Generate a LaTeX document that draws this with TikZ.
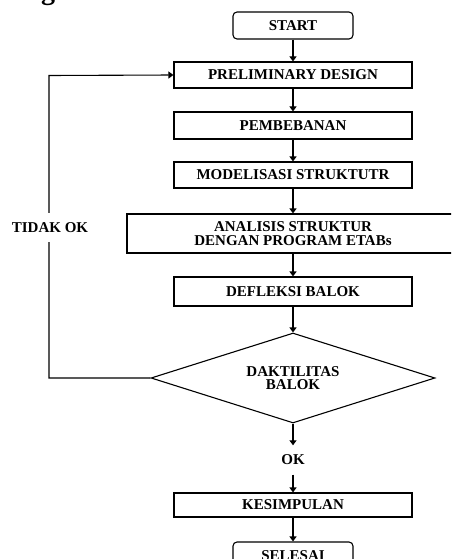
\documentclass[tikz,border=0pt]{standalone}
\usepackage{fontspec}
\setmainfont{Liberation Serif}
\usetikzlibrary{shapes.geometric,arrows.meta}
\begin{document}
\begin{tikzpicture}[x=1pt,y=-1pt,
  every node/.style={font=\fontsize{15}{13.5}\selectfont\bfseries, align=center, inner sep=0pt},
  box/.style={draw, line width=1.1pt, minimum width=238pt},
  term/.style={draw, line width=1.1pt, rounded corners=4pt, minimum width=120pt, minimum height=27pt},
  dec/.style={draw, line width=1.1pt, diamond, aspect=3.16, minimum width=284pt, minimum height=90pt},
  arr/.style={line width=1.1pt, -{Triangle[length=5pt,width=7pt]}},
  ln/.style={line width=1.1pt}]
\clip (0,0) rectangle (451,559);
\node[font=\fontsize{28}{30}\selectfont\bfseries, anchor=base] (hd) at (48,0) {g};
\node[term] (start) at (293,25.5) {START};
\node[box, minimum height=26pt] (pre) at (293,75) {PRELIMINARY DESIGN};
\node[box, minimum height=27pt] (pem) at (293,125.5) {PEMBEBANAN};
\node[box, minimum height=26pt] (mod) at (293,175) {MODELISASI STRUKTUTR};
\node[box, minimum width=332pt, minimum height=39pt] (ana) at (293,233.5) {ANALISIS STRUKTUR\\DENGAN PROGRAM ETABs};
\node[box, minimum height=29pt] (def) at (293,291.5) {DEFLEKSI BALOK};
\node[dec] (dak) at (293,378) {DAKTILITAS\\BALOK};
\node[minimum height=29pt] (ok) at (293,460) {OK};
\node[box, minimum height=24pt] (kes) at (293,505) {KESIMPULAN};
\node[term] (sel) at (293,555.5) {SELESAI};
\coordinate (c1) at (49,378);
\coordinate (c2) at (49,75.5);
\draw[arr] (start) -- (pre);
\draw[arr] (pre) -- (pem);
\draw[arr] (pem) -- (mod);
\draw[arr] (mod) -- (ana);
\draw[arr] (ana) -- (def);
\draw[arr] (def) -- (dak);
\draw[arr] (dak) -- (ok);
\draw[arr] (ok) -- (kes);
\draw[arr] (kes) -- (sel);
\draw[arr] (dak.west) -- (c1) -- (c2) -- (pre.west);
\node[fill=white, minimum height=29pt, inner xsep=2pt] (tidak) at (50,227.5) {TIDAK OK};
\end{tikzpicture}
\end{document}
